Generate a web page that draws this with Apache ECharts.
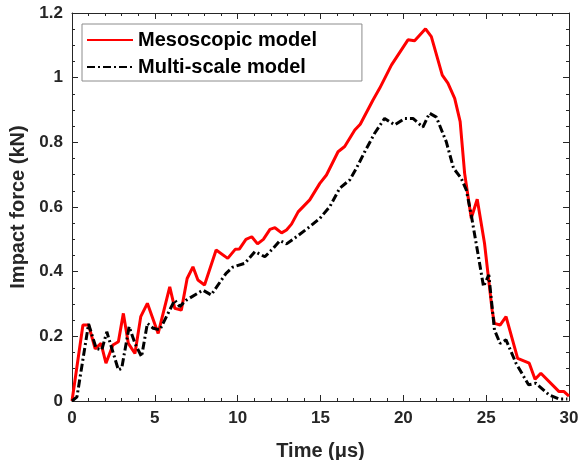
<!DOCTYPE html>
<html>
<head>
<meta charset="utf-8">
<script src="https://cdn.jsdelivr.net/npm/echarts@6/dist/echarts.min.js"></script>
<style>html,body{margin:0;padding:0;background:#fff}#c{width:581px;height:460px}</style>
</head>
<body>
<div id="c"></div>
<script>
var seriesNames = ['Mesoscopic model', 'Multi-scale model'];
var xTitle = 'Time (\u03bcs)';
var yTitle = 'Impact force (kN)';

var mesoTime = [0,0.66,1.0,1.4,1.75,2.05,2.47,2.8,3.1,3.4,3.8,4.15,4.55,5.2,5.9,6.2,6.6,6.95,7.3,7.6,8.0,8.7,9.4,9.85,10.1,10.5,10.85,11.2,11.55,11.95,12.25,12.65,12.95,13.25,13.65,14.35,14.96,15.36,16.06,16.46,17.07,17.4,18.17,18.57,19.28,20.28,20.68,21.34,21.69,22.35,22.69,23.1,23.43,23.7,24.1,24.46,24.9,25.36,25.5,25.84,26.2,26.9,27.6,27.95,28.3,29.4,29.7,30];
var mesoForce = [0,0.235,0.235,0.161,0.178,0.117,0.173,0.183,0.271,0.178,0.147,0.261,0.302,0.209,0.353,0.287,0.281,0.379,0.415,0.374,0.359,0.467,0.441,0.469,0.47,0.5,0.508,0.486,0.5,0.531,0.536,0.52,0.529,0.547,0.585,0.622,0.673,0.699,0.771,0.787,0.838,0.856,0.931,0.967,1.039,1.117,1.114,1.151,1.127,1.008,0.983,0.936,0.864,0.704,0.565,0.624,0.488,0.281,0.24,0.235,0.261,0.132,0.117,0.067,0.086,0.029,0.029,0.015];

var multiTime = [0,0.3,1.0,1.46,1.8,2.1,2.8,3.0,3.45,3.8,4.2,4.55,4.9,5.3,5.7,6.2,6.5,6.9,7.9,8.4,9.3,9.7,10.44,11.04,11.64,12.14,12.55,12.95,13.55,14.35,14.96,15.56,16.16,16.77,17.17,17.67,18.27,18.87,19.48,20.08,20.58,21.18,21.58,21.99,22.59,23.03,23.49,23.8,24.1,24.5,24.84,25.16,25.5,25.84,26.2,26.8,27.56,28.0,28.8,29.4,29.9];
var multiForce = [0,0.013,0.238,0.163,0.158,0.214,0.096,0.101,0.23,0.178,0.137,0.24,0.225,0.22,0.261,0.312,0.292,0.312,0.343,0.328,0.395,0.414,0.426,0.462,0.446,0.472,0.496,0.486,0.508,0.539,0.565,0.601,0.658,0.684,0.72,0.771,0.828,0.874,0.854,0.874,0.874,0.847,0.89,0.878,0.802,0.72,0.689,0.653,0.575,0.457,0.354,0.39,0.22,0.178,0.189,0.117,0.05,0.055,0.019,0.006,0.006];

function pairs(xs, ys){ return xs.map(function(x,i){ return [x, ys[i]]; }); }

var axisColor = '#262626';
var font = 'Arial, "Liberation Sans", sans-serif';
var chart = echarts.init(document.getElementById('c'), null, {renderer:'canvas'});

function xAx(pos, show){
  return {
    type:'value', position:pos, min:0, max:30, interval:5,
    axisLine:{show:true, onZero:false, lineStyle:{color:axisColor, width:1}},
    axisTick:{show:true, inside:true, length:6, lineStyle:{color:axisColor}},
    minorTick:{show:true, splitNumber:5, length:3, lineStyle:{color:axisColor}},
    splitLine:{show:false},
    axisLabel:{show:show, color:axisColor, fontFamily:font, fontWeight:'bold', fontSize:17, margin:9},
    name: show ? xTitle : '', nameLocation:'middle', nameGap:40,
    nameTextStyle:{color:axisColor, fontFamily:font, fontWeight:'bold', fontSize:20}
  };
}
function yAx(pos, show){
  return {
    type:'value', position:pos, min:0, max:1.2, interval:0.2,
    axisLine:{show:true, onZero:false, lineStyle:{color:axisColor, width:1}},
    axisTick:{show:true, inside:true, length:6, lineStyle:{color:axisColor}},
    minorTick:{show:true, splitNumber:4, length:3, lineStyle:{color:axisColor}},
    splitLine:{show:false},
    axisLabel:{show:show, color:axisColor, fontFamily:font, fontWeight:'bold', fontSize:17, margin:9,
      formatter:function(v){ return +v.toFixed(1) + ''; }},
    name: show ? yTitle : '', nameLocation:'middle', nameGap:34,
    nameTextStyle:{color:axisColor, fontFamily:font, fontWeight:'bold', fontSize:20}
  };
}

chart.setOption({
  animation:false,
  backgroundColor:'#ffffff',
  grid:{left:72, right:12, top:13, bottom:59, containLabel:false, outerBoundsMode:'none'},
  legend:{
    show:true,
    orient:'vertical', left:82, top:24,
    data:seriesNames,
    itemWidth:46, itemHeight:14, itemGap:7,
    padding:[6,45,4,4],
    borderColor:'#8c8c8c', borderWidth:1, backgroundColor:'#ffffff',
    itemStyle:{color:'rgba(0,0,0,0)', borderWidth:0, opacity:0},
    textStyle:{color:'#000000', fontFamily:font, fontWeight:'bold', fontSize:20}
  },
  xAxis:[xAx('bottom', true), xAx('top', false)],
  yAxis:[yAx('left', true), yAx('right', false)],
  series:[
    {name:seriesNames[0], type:'line', data:pairs(mesoTime, mesoForce), showSymbol:false, symbol:'none',
     lineStyle:{color:'#ff0000', width:3}, itemStyle:{color:'#ff0000'}, z:2},
    {name:seriesNames[1], type:'line', data:pairs(multiTime, multiForce), showSymbol:false, symbol:'none',
     lineStyle:{color:'#000000', width:3, type:[8,3,2,3]}, itemStyle:{color:'#000000'}, z:3}
  ]
});
</script>
</body>
</html>
